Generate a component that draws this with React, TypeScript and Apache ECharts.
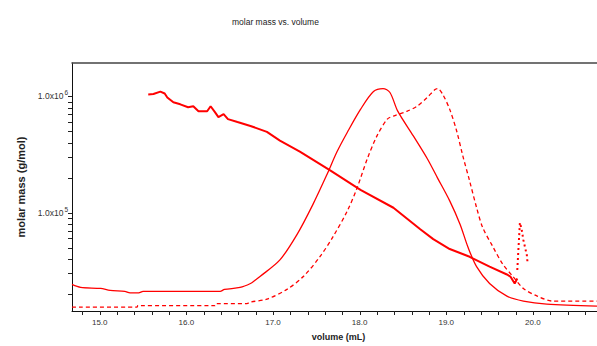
import React, { useEffect, useRef } from "react";
import * as echarts from "echarts";

const X_MIN = 14.68;
const X_MAX = 20.74;
const Y_MIN = 14200;
const Y_MAX = 1940000;

// molar mass (g/mol) vs volume (mL)
const molarVol = [15.56, 15.62, 15.7, 15.75, 15.78, 15.85, 15.93, 16.02, 16.08, 16.14, 16.24, 16.28, 16.33, 16.37, 16.43, 16.48, 16.59, 16.74, 16.93, 17.08, 17.31, 17.66, 18.01, 18.39, 18.7, 18.85, 19.04, 19.27, 19.5, 19.7, 19.74, 19.79, 19.82];
const molarMass = [1.04e6, 1.05e6, 1.1e6, 1.06e6, 9.8e5, 8.9e5, 8.55e5, 8.07e5, 8.23e5, 7.46e5, 7.46e5, 8.23e5, 7.32e5, 6.64e5, 7.03e5, 6.38e5, 6.02e5, 5.57e5, 4.95e5, 4.16e5, 3.35e5, 2.31e5, 1.57e5, 1.1e5, 7.18e4, 5.9e4, 4.85e4, 4.16e4, 3.42e4, 2.93e4, 2.81e4, 2.45e4, 2.7e4];

// scattered tail of molar mass
const tailVol = [19.82, 19.83, 19.85, 19.87, 19.89, 19.93, 19.94];
const tailMass = [3.2e4, 4.4e4, 8.2e4, 7.2e4, 5.8e4, 4.3e4, 3.6e4];

// detector trace 1 (solid), relative signal
const solidVol = [14.68, 14.78, 15.01, 15.12, 15.29, 15.35, 15.45, 15.5, 16.0, 16.16, 16.39, 16.44, 16.62, 16.74, 16.79, 16.85, 17.08, 17.28, 17.46, 17.62, 17.74, 17.86, 18.01, 18.16, 18.27, 18.35, 18.44, 18.62, 18.78, 18.9, 19.04, 19.16, 19.25, 19.35, 19.5, 19.7, 19.89, 20.16, 20.74];
const solidSig = [10.7, 9.5, 9.1, 8.3, 7.9, 7.3, 7.3, 7.9, 7.9, 7.9, 7.9, 8.7, 9.5, 11.1, 12.3, 13.9, 20.6, 31.0, 42.9, 54.8, 64.3, 72.2, 81.3, 88.5, 89.7, 88.1, 80.6, 70.6, 61.5, 53.6, 44.4, 34.9, 25.8, 17.9, 11.1, 6.0, 4.0, 2.8, 2.0];

// detector trace 2 (dashed), relative signal
const dashVol = [14.68, 15.43, 15.44, 16.33, 16.34, 16.7, 16.74, 16.93, 17.16, 17.35, 17.54, 17.69, 17.86, 17.97, 18.09, 18.2, 18.32, 18.39, 18.55, 18.66, 18.78, 18.87, 18.9, 18.96, 19.04, 19.12, 19.19, 19.27, 19.35, 19.42, 19.54, 19.65, 19.77, 19.89, 20.05, 20.23, 20.74];
const dashSig = [1.6, 1.6, 2.2, 2.2, 3.0, 3.0, 3.6, 4.8, 8.7, 13.9, 21.8, 29.8, 40.5, 49.6, 61.5, 70.6, 77.4, 78.6, 80.6, 82.5, 86.1, 89.3, 89.7, 87.3, 81.3, 72.6, 62.7, 52.4, 41.7, 33.7, 25.8, 19.0, 13.9, 9.1, 6.0, 4.0, 4.0];

const xTicks = [14.8, 15.0, 15.2, 15.4, 15.6, 15.8, 16.0, 16.2, 16.4, 16.6, 16.8, 17.0, 17.2, 17.4, 17.6, 17.8, 18.0, 18.2, 18.4, 18.6, 18.8, 19.0, 19.2, 19.4, 19.6, 19.8, 20.0, 20.2, 20.4, 20.6];
const yTicks = [2e4, 3e4, 4e4, 5e4, 6e4, 7e4, 8e4, 9e4, 1e5, 2e5, 3e5, 4e5, 5e5, 6e5, 7e5, 8e5, 9e5, 1e6];

const FONT = "'Liberation Sans', Arial, sans-serif";
const RED = "#ff0000";
const TICK = "#222";

const zip = (a: number[], b: number[]) => a.map((v, i) => [v, b[i]]);

export default function App() {
  const ref = useRef<HTMLDivElement>(null);
  useEffect(() => {
    if (!ref.current) return;
    const chart = echarts.init(ref.current, null, { renderer: "svg" });
    chart.setOption({
      animation: false,
      backgroundColor: "#ffffff",
      title: {
        text: "molar mass vs. volume",
        left: 227,
        top: 12,
        textStyle: { fontFamily: FONT, fontSize: 8.5, fontWeight: "normal", color: "#222" },
      },
      grid: { left: 72, top: 63, right: 0, bottom: 31 },
      xAxis: [
        {
          type: "value",
          min: X_MIN,
          max: X_MAX,
          splitLine: { show: false },
          axisTick: { show: false },
          axisLine: { lineStyle: { color: "#111", width: 1 } },
          axisLabel: {
            showMinLabel: false,
            showMaxLabel: false,
            fontFamily: FONT,
            fontSize: 8,
            color: "#333",
            margin: 7,
            formatter: (v: number) => (Math.abs(v - Math.round(v)) < 1e-6 ? v.toFixed(1) : ""),
          },
          name: "volume (mL)",
          nameLocation: "middle",
          nameGap: 21,
          nameTextStyle: { fontFamily: FONT, fontSize: 9, fontWeight: "bold", color: "#222", padding: [0, 0, 0, 8] },
        },
        {
          type: "value",
          position: "top",
          min: X_MIN,
          max: X_MAX,
          splitLine: { show: false },
          axisTick: { show: false },
          axisLabel: { show: false },
          axisLine: { lineStyle: { color: "#444", width: 1.5 } },
        },
      ],
      yAxis: [
        {
          type: "log",
          logBase: 10,
          min: Y_MIN,
          max: Y_MAX,
          splitLine: { show: false },
          axisTick: { show: false },
          axisLine: { show: true, lineStyle: { color: "#111", width: 1 } },
          axisLabel: {
            showMinLabel: false,
            showMaxLabel: false,
            fontFamily: FONT,
            fontSize: 8.5,
            color: "#333",
            margin: 4,
            formatter: (v: number) => {
              const l = Math.log10(v);
              const e = Math.round(l);
              if (Math.abs(l - e) > 1e-6) return "";
              return `1.0x10{sup|${e}}`;
            },
            rich: {
              sup: { fontFamily: FONT, fontSize: 6.5, color: "#333", padding: [0, 0, 7, 1] },
            },
          },
          name: "molar mass (g/mol)",
          nameLocation: "middle",
          nameRotate: 90,
          nameGap: 46,
          nameTextStyle: { fontFamily: FONT, fontSize: 11, fontWeight: "bold", color: "#222" },
        },
        {
          type: "value",
          min: 0,
          max: 100,
          show: false,
        },
      ],
      series: [
        {
          type: "line",
          name: "detector A",
          xAxisIndex: 0,
          yAxisIndex: 1,
          data: zip(solidVol, solidSig),
          showSymbol: false,
          smooth: 0.3,
          lineStyle: { color: RED, width: 1.3 },
        },
        {
          type: "line",
          name: "detector B",
          xAxisIndex: 0,
          yAxisIndex: 1,
          data: zip(dashVol, dashSig),
          showSymbol: false,
          smooth: 0.3,
          lineStyle: { color: RED, width: 1.3, type: [4, 3] },
        },
        {
          type: "line",
          name: "molar mass",
          xAxisIndex: 0,
          yAxisIndex: 0,
          data: zip(molarVol, molarMass),
          showSymbol: false,
          lineStyle: { color: RED, width: 2 },
        },
        {
          type: "line",
          name: "molar mass tail",
          xAxisIndex: 0,
          yAxisIndex: 0,
          data: zip(tailVol, tailMass),
          showSymbol: false,
          lineStyle: { color: RED, width: 2, type: [2, 3] },
        },
      ],
    });

    // tick marks placed through the chart's own scales
    const finder = { xAxisIndex: 0, yAxisIndex: 0 };
    const ticks: any[] = [];
    yTicks.forEach((v) => {
      const p = chart.convertToPixel(finder, [X_MIN, v]) as number[];
      if (!p) return;
      const y = Math.round(p[1]) + 0.5;
      ticks.push({
        type: "line",
        silent: true,
        z: 10,
        shape: { x1: p[0] - 4, y1: y, x2: p[0], y2: y },
        style: { stroke: TICK, lineWidth: 1 },
      });
    });
    xTicks.forEach((v) => {
      const p = chart.convertToPixel(finder, [v, Y_MIN]) as number[];
      if (!p) return;
      const x = Math.round(p[0]) + 0.5;
      ticks.push({
        type: "line",
        silent: true,
        z: 10,
        shape: { x1: x, y1: p[1], x2: x, y2: p[1] + 4 },
        style: { stroke: TICK, lineWidth: 1 },
      });
    });
    chart.setOption({ graphic: ticks });

    return () => chart.dispose();
  }, []);
  return (
    <div
      ref={ref}
      style={{ position: "fixed", left: 0, top: 0, width: 597, height: 346, background: "#fff" }}
    />
  );
}
